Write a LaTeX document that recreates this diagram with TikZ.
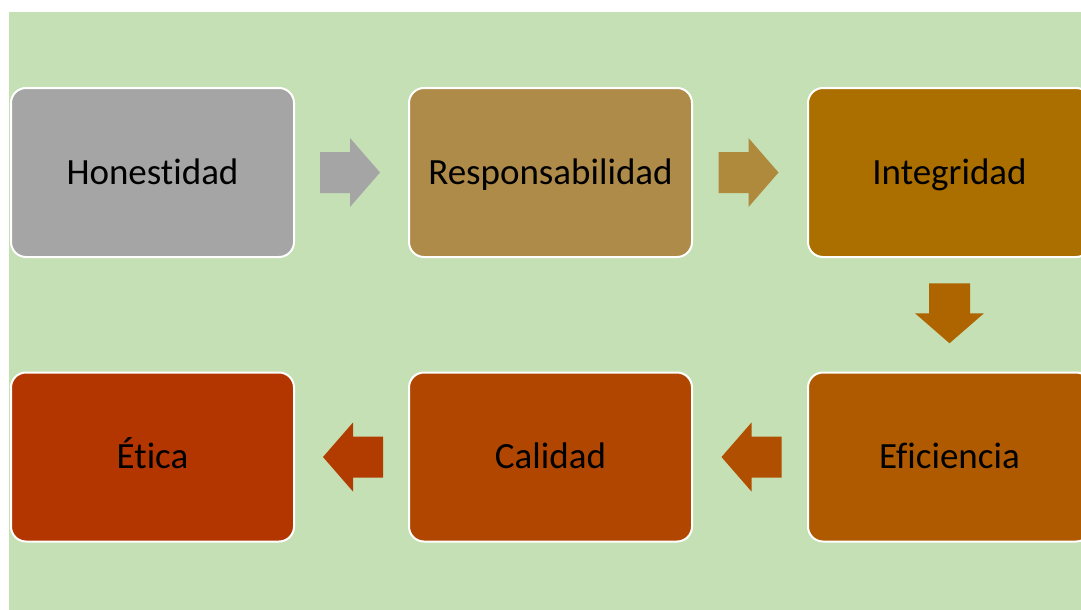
\documentclass[tikz,border=0pt]{standalone}
\usepackage{fontspec}
\setmainfont{Carlito}[Ligatures=NoCommon]
\usetikzlibrary{calc}

\definecolor{bggreen}{HTML}{C5E0B4}
\definecolor{cHon}{HTML}{A5A5A5}
\definecolor{cRes}{HTML}{AF8B4A}
\definecolor{cInt}{HTML}{AB6F00}
\definecolor{cEfi}{HTML}{AF5A00}
\definecolor{cCal}{HTML}{B04600}
\definecolor{cEti}{HTML}{B33500}
\definecolor{aRes}{HTML}{AF8A3C}
\definecolor{aInt}{HTML}{AE6500}
\definecolor{aEfi}{HTML}{B04F00}
\definecolor{aCal}{HTML}{B23C00}

\tikzset{
  stepbox/.style={rectangle, rounded corners=15pt, draw=white, line width=2pt,
    minimum width=283pt, minimum height=169pt, inner sep=0pt,
    text height=23.5pt, text depth=0pt,
    font=\fontsize{37}{44}\selectfont, text=black},
  blockarrow/.pic={
    \fill (-30,-20.5) -- (0,-20.5) -- (0,-34.5) -- (30,0) -- (0,34.5)
          -- (0,20.5) -- (-30,20.5) -- cycle;
  }
}

\begin{document}
\begin{tikzpicture}[x=1pt, y=-1pt]
  \useasboundingbox (0,0) rectangle (1081,610);
  \clip (0,0) rectangle (1081,610);
  \fill[white] (0,0) rectangle (1081,610);
  \fill[bggreen] (9,12) rectangle (1081,610);

  % process steps
  \node[stepbox, fill=cHon] (hon) at (152.5,172.5) {Honestidad};
  \node[stepbox, fill=cRes] (res) at (550.5,172.5) {Responsabilidad};
  \node[stepbox, fill=cInt] (int) at (949.5,172.5) {Integridad};
  \node[stepbox, fill=cEfi] (efi) at (949.5,457) {Eficiencia};
  \node[stepbox, fill=cCal] (cal) at (550.5,457) {Calidad};
  \node[stepbox, fill=cEti] (eti) at (152.5,457) {Ética};

  % block arrows between steps
  \pic[fill=cHon] at ($(hon.east)!0.5!(res.west)+(-1.5,0)$) {blockarrow};
  \pic[fill=aRes] at ($(res.east)!0.5!(int.west)+(-1.5,0)$) {blockarrow};
  \pic[fill=aInt, rotate=-90] at ($(int.south)!0.5!(efi.north)+(0,-1.5)$) {blockarrow};
  \pic[fill=aEfi, rotate=180] at ($(efi.west)!0.5!(cal.east)+(1.5,0)$) {blockarrow};
  \pic[fill=aCal, rotate=180] at ($(cal.west)!0.5!(eti.east)+(1.5,0)$) {blockarrow};
\end{tikzpicture}
\end{document}
